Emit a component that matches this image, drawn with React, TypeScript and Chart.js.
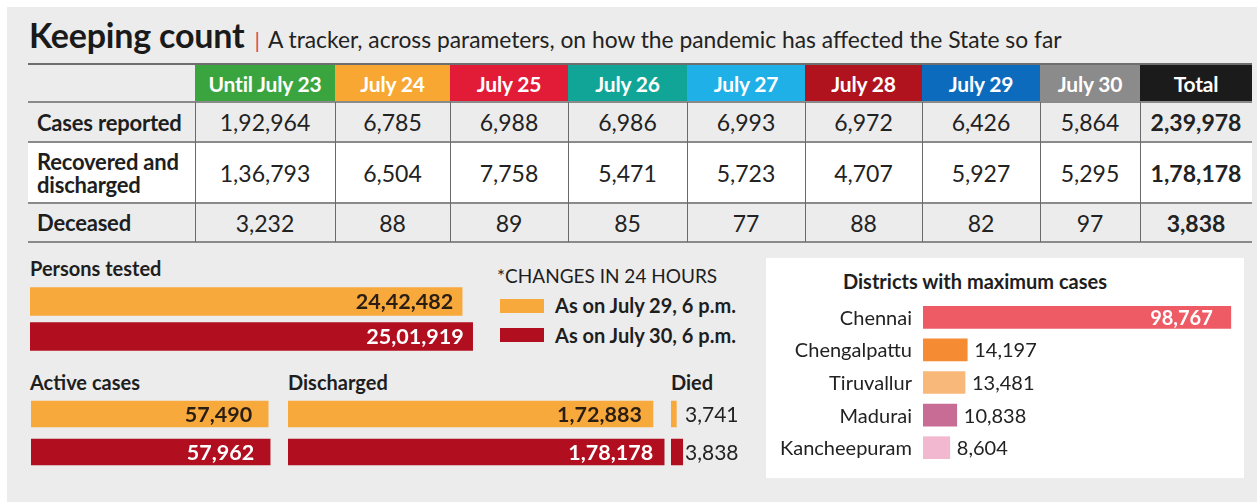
import React, { useEffect, useRef } from "react";
import { Chart, registerables } from "chart.js";
Chart.register(...registerables);

// ---------- data ----------
const tableColumns = ["Until July 23", "July 24", "July 25", "July 26", "July 27", "July 28", "July 29", "July 30", "Total"];
const headerColors = ["#3aa53e", "#f8a732", "#e21c37", "#10a597", "#1eb0e6", "#b0121e", "#0d6bbd", "#8b8b8b", "#1b1b1b"];
const rowLabels = ["Cases reported", "Recovered and\ndischarged", "Deceased"];
const casesReported = [192964, 6785, 6988, 6986, 6993, 6972, 6426, 5864, 239978];
const recoveredDischarged = [136793, 6504, 7758, 5471, 5723, 4707, 5927, 5295, 178178];
const deceased = [3232, 88, 89, 85, 77, 88, 82, 97, 3838];

const seriesLabels = ["As on July 29, 6 p.m.", "As on July 30, 6 p.m."];
const personsTested = [2442482, 2501919];
const activeCases = [57490, 57962];
const discharged = [172883, 178178];
const died = [3741, 3838];

const districts = ["Chennai", "Chengalpattu", "Tiruvallur", "Madurai", "Kancheepuram"];
const districtCases = [98767, 14197, 13481, 10838, 8604];

// ---------- styles ----------
const ORANGE = "#f8a93c";
const RED = "#b10f1f";
const seriesColors = [ORANGE, RED];
const seriesTextColors = ["#2a1e14", "#ffffff"];
const districtColors = ["#ee5b64", "#f58b32", "#f8b879", "#c96c95", "#f2b8cf"];
const FONT = "Lato, 'Open Sans', sans-serif";
const PANEL = "#ececec";

function fmtIN(n: number): string {
  const s = String(Math.round(n));
  if (s.length <= 3) return s;
  const last3 = s.slice(-3);
  let rest = s.slice(0, -3);
  const parts: string[] = [];
  while (rest.length > 2) {
    parts.unshift(rest.slice(-2));
    rest = rest.slice(0, -2);
  }
  if (rest.length) parts.unshift(rest);
  return parts.join(",") + "," + last3;
}

const valueLabelPlugin = {
  id: "valueLabels",
  afterDatasetsDraw(chart: any, _args: any, opts: any) {
    const ctx = chart.ctx;
    const meta = chart.getDatasetMeta(0);
    const data = chart.data.datasets[0].data;
    meta.data.forEach((bar: any, i: number) => {
      const mode = opts.modes[i];
      ctx.save();
      ctx.textBaseline = "middle";
      if (opts.catLabels) {
        ctx.font = `400 20px ${FONT}`;
        ctx.fillStyle = "#222";
        ctx.textAlign = "right";
        ctx.fillText(String(chart.data.labels[i]), chart.chartArea.left - 11, bar.y + 1);
      }
      ctx.font = `${opts.weights[i]} ${opts.size}px ${FONT}`;
      ctx.fillStyle = opts.colors[i];
      const txt = fmtIN(data[i]);
      if (mode === "inside") {
        ctx.textAlign = "right";
        ctx.fillText(txt, bar.x - opts.inset, bar.y + 1);
      } else if (mode === "fixed") {
        ctx.textAlign = "left";
        ctx.fillText(txt, chart.chartArea.left + opts.offset, bar.y + 1);
      } else {
        ctx.textAlign = "left";
        ctx.fillText(txt, bar.x + opts.offset, bar.y + 1);
      }
      ctx.restore();
    });
  },
};

type BarProps = {
  left: number; top: number; width: number; height: number;
  labels: string[]; values: number[]; colors: string[];
  min: number; max: number; thickness: number;
  modes: string[]; textColors: string[]; weights: string[];
  size: number; inset?: number; offset?: number;
  padLeft?: number; catLabels?: boolean;
};

function HBar(p: BarProps) {
  const ref = useRef<HTMLCanvasElement>(null);
  useEffect(() => {
    if (!ref.current) return;
    const chart = new Chart(ref.current, {
      type: "bar",
      data: {
        labels: p.labels,
        datasets: [{ data: p.values, backgroundColor: p.colors, borderWidth: 0, barThickness: p.thickness }],
      },
      options: {
        indexAxis: "y",
        animation: false,
        responsive: false,
        maintainAspectRatio: false,
        events: [],
        layout: { padding: { left: p.padLeft ?? 0, right: 0, top: 0, bottom: 0 } },
        plugins: {
          legend: { display: false },
          tooltip: { enabled: false },
          valueLabels: {
            modes: p.modes, colors: p.textColors, weights: p.weights, size: p.size,
            inset: p.inset ?? 10, offset: p.offset ?? 7, catLabels: !!p.catLabels,
          },
        } as any,
        scales: {
          x: { display: false, min: p.min, max: p.max },
          y: { display: false },
        },
      } as any,
      plugins: [valueLabelPlugin],
    });
    return () => chart.destroy();
  }, []);
  return (
    <canvas
      ref={ref}
      width={p.width}
      height={p.height}
      style={{ position: "absolute", left: p.left, top: p.top, width: p.width, height: p.height }}
    />
  );
}

function Txt(props: { x: number; cy: number; size: number; bold?: boolean; color?: string; children: any }) {
  const lh = Math.round(props.size * 1.3);
  return (
    <div
      style={{
        position: "absolute",
        left: props.x,
        top: props.cy - lh / 2,
        fontFamily: FONT,
        fontSize: props.size,
        lineHeight: lh + "px",
        fontWeight: props.bold ? 700 : 400,
        color: props.color || "#1e1e1e",
        whiteSpace: "nowrap",
      }}
    >
      {props.children}
    </div>
  );
}

// table geometry
const colWidths = [167, 140, 115, 118, 119, 118, 117, 118, 100, 112];
const rowHeights = [38, 40, 61, 39];
const TABLE_LEFT = 28;
const TABLE_TOP = 64;

function Table() {
  const xs: number[] = [TABLE_LEFT];
  colWidths.forEach((w) => xs.push(xs[xs.length - 1] + w));
  const ys: number[] = [TABLE_TOP];
  rowHeights.forEach((h) => ys.push(ys[ys.length - 1] + h));
  const bodyRows = [casesReported, recoveredDischarged, deceased];
  const rowBg = [PANEL, "#ffffff", PANEL];
  const cells: any[] = [];
  bodyRows.forEach((_, r) => {
    cells.push(
      <div key={"bg" + r} style={{ position: "absolute", left: xs[0], top: ys[r + 1], width: xs[10] - xs[0], height: rowHeights[r + 1], background: rowBg[r] }} />
    );
  });
  tableColumns.forEach((c, i) => {
    cells.push(
      <div
        key={"h" + i}
        style={{
          position: "absolute", left: xs[i + 1], top: ys[0], width: colWidths[i + 1], height: rowHeights[0],
          background: headerColors[i], color: "#fff", fontFamily: FONT, fontWeight: 700, fontSize: 21,
          letterSpacing: -0.2, display: "flex", alignItems: "center", justifyContent: "center",
        }}
      >
        {c}
      </div>
    );
  });
  bodyRows.forEach((vals, r) => {
    cells.push(
      <div
        key={"l" + r}
        style={{
          position: "absolute", left: xs[0] + 9, top: ys[r + 1], width: colWidths[0] - 6, height: rowHeights[r + 1],
          fontFamily: FONT, fontWeight: 700, fontSize: 22, lineHeight: "23px", color: "#1e1e1e",
          display: "flex", alignItems: "center", whiteSpace: "pre-line", letterSpacing: -0.2,
        }}
      >
        {rowLabels[r]}
      </div>
    );
    vals.forEach((v, c) => {
      cells.push(
        <div
          key={"v" + r + "_" + c}
          style={{
            position: "absolute", left: xs[c + 1], top: ys[r + 1], width: colWidths[c + 1], height: rowHeights[r + 1],
            fontFamily: FONT, fontWeight: c === 8 ? 700 : 400, fontSize: 23, color: "#222",
            display: "flex", alignItems: "center", justifyContent: "center",
          }}
        >
          {fmtIN(v)}
        </div>
      );
    });
  });
  ys.forEach((y, i) => {
    const thick = i === 0 || i === 1 ? 2 : 1.5;
    cells.push(
      <div key={"hl" + i} style={{ position: "absolute", left: xs[0], top: y - thick / 2, width: xs[10] - xs[0], height: thick, background: i === 0 ? "#6e6e6e" : "#8a8a8a" }} />
    );
  });
  for (let i = 1; i < xs.length - 1; i++) {
    cells.push(
      <div key={"vl" + i} style={{ position: "absolute", left: xs[i] - 0.5, top: ys[1], width: 1, height: ys[4] - ys[1], background: "#6a6a6a" }} />
    );
  }
  return <>{cells}</>;
}

export default function App() {
  useEffect(() => {
    document.body.style.margin = "0";
  }, []);
  return (
    <div style={{ position: "absolute", left: 0, top: 0, width: 1257, height: 502, background: "#ffffff", overflow: "hidden" }}>
      <div style={{ position: "absolute", left: 7, top: 7, width: 1250, height: 495, background: PANEL }} />
      {/* title */}
      <div style={{ position: "absolute", left: 29, top: 13, fontFamily: FONT, color: "#1a1a1a", whiteSpace: "nowrap", lineHeight: "44px" }}>
        <span style={{ fontSize: 34, fontWeight: 700, letterSpacing: -0.2 }}>Keeping count</span>
        <span style={{ fontSize: 22, color: "#e0445a", margin: "0 8px 0 10px" }}>|</span>
        <span style={{ fontSize: 22.8, color: "#222" }}>A tracker, across parameters, on how the pandemic has affected the State so far</span>
      </div>

      <Table />

      {/* Persons tested */}
      <Txt x={30} cy={268} size={20} bold>Persons tested</Txt>
      <HBar left={30} top={284} width={460} height={70} labels={seriesLabels} values={personsTested} colors={seriesColors}
        min={0} max={2600000} thickness={28} modes={["inside", "inside"]} textColors={seriesTextColors}
        weights={["700", "700"]} size={21.5} inset={9} />

      {/* legend */}
      <Txt x={497} cy={275} size={19}>*CHANGES IN 24 HOURS</Txt>
      <div style={{ position: "absolute", left: 500, top: 299, width: 44, height: 14, background: ORANGE }} />
      <div style={{ position: "absolute", left: 500, top: 328, width: 44, height: 14, background: RED }} />
      <Txt x={555} cy={305} size={20} bold>{seriesLabels[0]}</Txt>
      <Txt x={555} cy={335} size={20} bold>{seriesLabels[1]}</Txt>

      {/* Active cases */}
      <Txt x={30} cy={382} size={20} bold>Active cases</Txt>
      <HBar left={31} top={395} width={250} height={76} labels={seriesLabels} values={activeCases} colors={seriesColors}
        min={0} max={60600} thickness={26} modes={["inside", "inside"]} textColors={seriesTextColors}
        weights={["700", "700"]} size={21.5} inset={16} />

      {/* Discharged */}
      <Txt x={288} cy={382} size={20} bold>Discharged</Txt>
      <HBar left={288} top={395} width={380} height={76} labels={seriesLabels} values={discharged} colors={seriesColors}
        min={0} max={180000} thickness={26} modes={["inside", "inside"]} textColors={seriesTextColors}
        weights={["700", "700"]} size={21.5} inset={11} />

      {/* Died */}
      <Txt x={671} cy={382} size={20} bold>Died</Txt>
      <HBar left={671} top={395} width={85} height={76} labels={seriesLabels} values={died} colors={seriesColors}
        min={3660} max={4950} thickness={26} modes={["fixed", "fixed"]} textColors={["#222", "#222"]}
        weights={["400", "400"]} size={21} offset={14} />

      {/* Districts */}
      <div style={{ position: "absolute", left: 766, top: 258, width: 478, height: 220, background: "#ffffff" }} />
      <Txt x={843} cy={281} size={20} bold>Districts with maximum cases</Txt>
      <HBar left={766} top={301} width={478} height={163} labels={districts} values={districtCases} colors={districtColors}
        min={0} max={103000} thickness={22} modes={["inside", "outside", "outside", "outside", "outside"]}
        textColors={["#ffffff", "#222", "#222", "#222", "#222"]} weights={["700", "400", "400", "400", "400"]}
        size={20} inset={18} offset={7} padLeft={157} catLabels />
    </div>
  );
}
